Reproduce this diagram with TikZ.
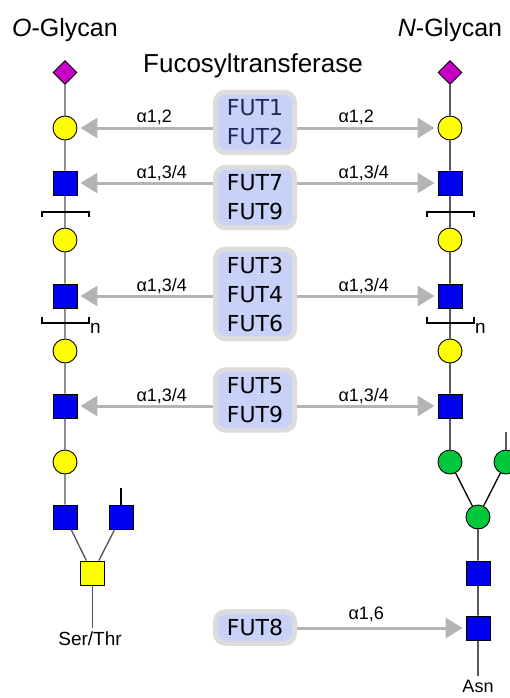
\documentclass[tikz,border=0pt]{standalone}
\usepackage{fontspec}
\setmainfont{Liberation Sans}
\newfontfamily\futfont{DejaVu Sans}
\usepackage{xcolor}
\usetikzlibrary{shapes.geometric,arrows.meta}

\definecolor{siamagenta}{HTML}{C800C8}
\definecolor{galyellow}{HTML}{FFFF00}
\definecolor{glcblue}{HTML}{0000F0}
\definecolor{mangreen}{HTML}{00C83C}
\definecolor{boxblue}{HTML}{C8D2F8}
\definecolor{boxgray}{HTML}{DCDCDC}
\definecolor{arrowgray}{HTML}{B4B4B4}
\definecolor{linkgray}{HTML}{505050}
\definecolor{futnavy}{HTML}{1C2A5C}

\begin{document}
\begin{tikzpicture}[x=1pt, y=-1pt,
        gal/.style={circle, draw=black, line width=0.9pt, fill=galyellow, minimum size=24pt, inner sep=0pt},
        glcnac/.style={rectangle, draw=black, line width=0.9pt, fill=glcblue, minimum size=24pt, inner sep=0pt},
        galnac/.style={glcnac, fill=galyellow},
        man/.style={gal, fill=mangreen},
        sia/.style={diamond, aspect=1, draw=black, line width=0.9pt, fill=siamagenta, minimum size=24pt, inner sep=0pt},
        enzyme/.style={rectangle, rounded corners=10pt, draw=boxgray, line width=5pt, fill=boxblue, align=center, minimum width=79pt, inner xsep=4pt, inner ysep=7.5pt, font=\futfont\fontsize{22}{29}\selectfont},
        fuc/.style={draw=arrowgray, line width=3pt, -{Triangle[length=17pt, width=20pt]}, shorten >=3pt},
        link/.style={draw=linkgray, line width=1.3pt},
        linkage/.style={anchor=base west, font=\fontsize{18}{20}\selectfont},
        title/.style={anchor=base, font=\fontsize{25}{28}\selectfont}
    ]
        \useasboundingbox (0,0) rectangle (510,698);

        % Titles
        \node[title] (otitle) at (65,37) {\textit{O}-Glycan};
        \node[title] (ntitle) at (450,37) {\textit{N}-Glycan};
        \node[title, font=\fontsize{26}{29}\selectfont] (futtitle) at (253,73) {Fucosyltransferase};

        % O-Glycan
        \node[sia] (oSia) at (65,72.5) {};
        \node[gal] (oGal1) at (65,128) {};
        \node[glcnac] (oGlcNAc1) at (65,183) {};
        \node[gal] (oGal2) at (65,240) {};
        \node[glcnac] (oGlcNAc2) at (65,296) {};
        \node[gal] (oGal3) at (65,351) {};
        \node[glcnac] (oGlcNAc3) at (65,406) {};
        \node[gal] (oGal4) at (65,462) {};
        \node[glcnac] (oGlcNAc4) at (65,517) {};
        \node[glcnac] (oGlcNAc5) at (121,517) {};
        \node[galnac] (oGalNAc) at (92.5,573) {};
        \coordinate (oStub) at (121,488);
        \coordinate (oRoot) at (92.5,628);
        \node[anchor=base, font=\fontsize{19}{22}\selectfont] (serthr) at (90,645) {Ser/Thr};
        \draw[link] (oSia) -- (oGal1) -- (oGlcNAc1) -- (oGal2) -- (oGlcNAc2) -- (oGal3) -- (oGlcNAc3) -- (oGal4) -- (oGlcNAc4) -- (oGalNAc);
        \draw[link] (oGlcNAc5) -- (oGalNAc);
        \draw[link, draw=black] (oStub) -- (oGlcNAc5);
        \draw[link] (oGalNAc) -- (oRoot);
        \draw[line width=1.3pt] (42,217) -- (42,212) -- (89,212) -- (89,217);
        \draw[line width=1.3pt] (42,317) -- (42,323) -- (89,323) -- (89,317);
        \node[anchor=base west, inner sep=0pt, font=\fontsize{19}{22}\selectfont] (on) at (90,333) {n};

        % N-Glycan
        \node[sia] (nSia) at (450,72.5) {};
        \node[gal] (nGal1) at (450,128) {};
        \node[glcnac] (nGlcNAc1) at (450,183) {};
        \node[gal] (nGal2) at (450,240) {};
        \node[glcnac] (nGlcNAc2) at (450,296) {};
        \node[gal] (nGal3) at (450,351) {};
        \node[glcnac] (nGlcNAc3) at (450,406) {};
        \node[man] (nMan1) at (450,462) {};
        \node[man] (nMan2) at (506,462) {};
        \node[man] (nMan3) at (478,517) {};
        \node[glcnac] (nGlcNAc4) at (478,573) {};
        \node[glcnac] (nGlcNAc5) at (478,628) {};
        \coordinate (nStub) at (506,432);
        \coordinate (nRoot) at (478,676);
        \node[anchor=base, inner sep=1pt, font=\fontsize{18}{20}\selectfont] (asn) at (478,692) {Asn};
        \draw[link, draw=black] (nSia) -- (nGal1) -- (nGlcNAc1) -- (nGal2) -- (nGlcNAc2) -- (nGal3) -- (nGlcNAc3) -- (nMan1) -- (nMan3) -- (nGlcNAc4) -- (nGlcNAc5) -- (nRoot);
        \draw[link, draw=black] (nStub) -- (nMan2) -- (nMan3);
        \draw[line width=1.3pt] (427,217) -- (427,212) -- (474,212) -- (474,217);
        \draw[line width=1.3pt] (427,317) -- (427,323) -- (474,323) -- (474,317);
        \node[anchor=base west, inner sep=0pt, font=\fontsize{19}{22}\selectfont] (nn) at (475,333) {n};

        % Fucosyltransferases
        \node[enzyme, text=futnavy] (fut12) at (255,122.5) {FUT1\\FUT2};
        \node[enzyme] (fut79) at (255,197.5) {FUT7\\FUT9};
        \node[enzyme] (fut346) at (255,294) {FUT3\\FUT4\\FUT6};
        \node[enzyme] (fut59) at (255,400) {FUT5\\FUT9};
        \node[enzyme] (fut8) at (255,627.5) {FUT8};

        % Linkages
        \draw[fuc] (fut12.west |- oGal1) -- (oGal1);
        \draw[fuc] (fut12.east |- nGal1) -- (nGal1);
        \draw[fuc] (fut79.west |- oGlcNAc1) -- (oGlcNAc1);
        \draw[fuc] (fut79.east |- nGlcNAc1) -- (nGlcNAc1);
        \draw[fuc] (fut346.west |- oGlcNAc2) -- (oGlcNAc2);
        \draw[fuc] (fut346.east |- nGlcNAc2) -- (nGlcNAc2);
        \draw[fuc] (fut59.west |- oGlcNAc3) -- (oGlcNAc3);
        \draw[fuc] (fut59.east |- nGlcNAc3) -- (nGlcNAc3);
        \draw[fuc] (fut8.east |- nGlcNAc5) -- (nGlcNAc5);

        \node[linkage] (l12a) at (133,123) {α1,2};
        \node[linkage] (l12b) at (335,123) {α1,2};
        \node[linkage] (l79a) at (133,178) {α1,3/4};
        \node[linkage] (l79b) at (335,178) {α1,3/4};
        \node[linkage] (l346a) at (133,291) {α1,3/4};
        \node[linkage] (l346b) at (335,291) {α1,3/4};
        \node[linkage] (l59a) at (133,401) {α1,3/4};
        \node[linkage] (l59b) at (335,401) {α1,3/4};
        \node[linkage] (l8) at (345,619) {α1,6};
    \end{tikzpicture}
\end{document}
